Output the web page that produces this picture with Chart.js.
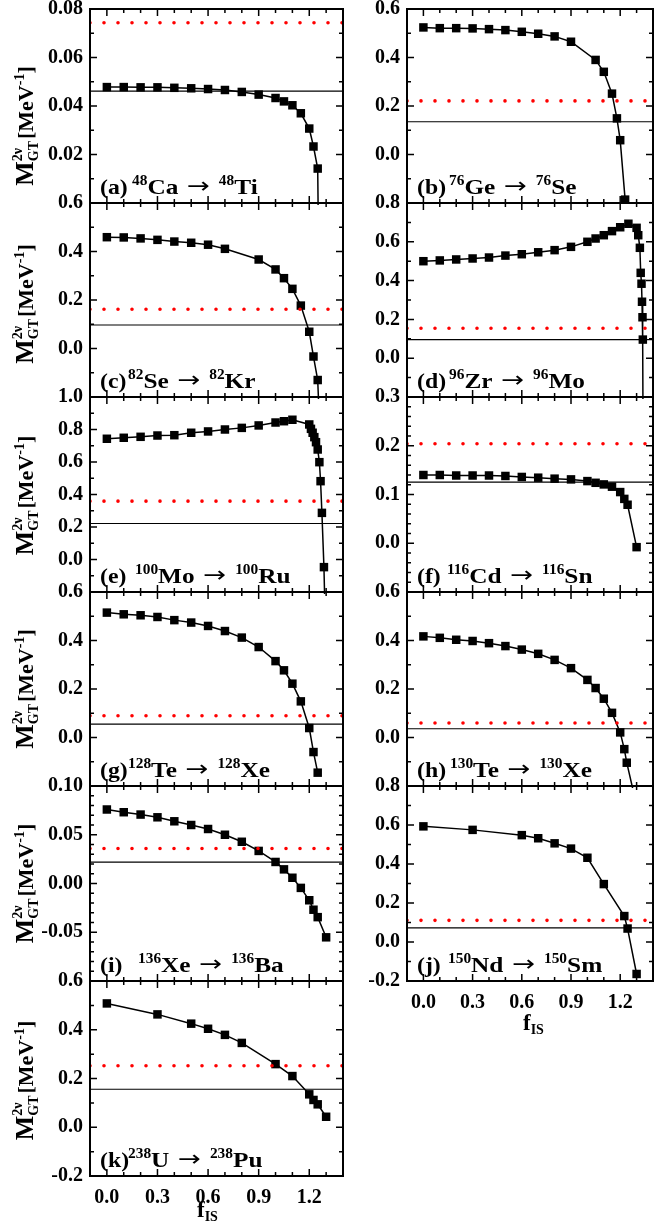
<!DOCTYPE html>
<html>
<head>
<meta charset="utf-8">
<script src="https://cdn.jsdelivr.net/npm/chart.js@4.4.1/dist/chart.umd.min.js"></script>
<style>
  html, body { margin: 0; padding: 0; background: #fff; }
  #wrap { position: relative; width: 659px; height: 1232px; overflow: hidden; }
  #wrap canvas { position: absolute; }
</style>
</head>
<body>
<div id="wrap"></div>
<script>
// x axis (f_IS) major ticks
var xTicks = [0.0, 0.3, 0.6, 0.9, 1.2];

// (a) 48Ca -> 48Ti
var fA = [0, 0.1, 0.2, 0.3, 0.4, 0.5, 0.6, 0.7, 0.8, 0.9, 1.0, 1.05, 1.1, 1.15, 1.2, 1.225, 1.25, 1.26];
var mA = [0.0478, 0.0478, 0.0477, 0.0477, 0.0475, 0.0473, 0.0470, 0.0466, 0.0458, 0.0447, 0.0433, 0.0419, 0.0403, 0.0370, 0.0307, 0.0233, 0.0142, -0.05];
// (b) 76Ge -> 76Se
var fB = [0, 0.1, 0.2, 0.3, 0.4, 0.5, 0.6, 0.7, 0.8, 0.9, 1.05, 1.1, 1.15, 1.18, 1.2, 1.23];
var mB = [0.524, 0.521, 0.521, 0.520, 0.517, 0.513, 0.506, 0.498, 0.487, 0.465, 0.390, 0.341, 0.251, 0.149, 0.059, -0.186];
// (c) 82Se -> 82Kr
var fC = [0, 0.1, 0.2, 0.3, 0.4, 0.5, 0.6, 0.7, 0.9, 1.0, 1.05, 1.1, 1.15, 1.2, 1.225, 1.25, 1.26];
var mC = [0.459, 0.458, 0.454, 0.448, 0.441, 0.436, 0.428, 0.411, 0.367, 0.326, 0.290, 0.246, 0.177, 0.069, -0.033, -0.130, -0.3];
// (d) 96Zr -> 96Mo
var fD = [0, 0.1, 0.2, 0.3, 0.4, 0.5, 0.6, 0.7, 0.8, 0.9, 1.0, 1.05, 1.1, 1.15, 1.2, 1.25, 1.3, 1.31, 1.32, 1.325, 1.33, 1.333, 1.336, 1.338, 1.34];
var mD = [0.500, 0.504, 0.509, 0.514, 0.519, 0.529, 0.536, 0.546, 0.557, 0.574, 0.600, 0.617, 0.634, 0.655, 0.675, 0.693, 0.672, 0.634, 0.569, 0.440, 0.384, 0.291, 0.211, 0.096, -0.5];
// (e) 100Mo -> 100Ru
var fE = [0, 0.1, 0.2, 0.3, 0.4, 0.5, 0.6, 0.7, 0.8, 0.9, 1.0, 1.05, 1.1, 1.2, 1.21, 1.22, 1.23, 1.24, 1.25, 1.26, 1.267, 1.275, 1.287, 1.295];
var mE = [0.743, 0.749, 0.755, 0.763, 0.765, 0.780, 0.788, 0.800, 0.810, 0.825, 0.843, 0.851, 0.860, 0.831, 0.804, 0.780, 0.753, 0.722, 0.677, 0.599, 0.482, 0.287, -0.047, -0.4];
// (f) 116Cd -> 116Sn
var fF = [0, 0.1, 0.2, 0.3, 0.4, 0.5, 0.6, 0.7, 0.8, 0.9, 1.0, 1.05, 1.1, 1.15, 1.2, 1.225, 1.245, 1.3];
var mF = [0.140, 0.140, 0.139, 0.139, 0.139, 0.138, 0.136, 0.1345, 0.1325, 0.131, 0.1275, 0.124, 0.1207, 0.116, 0.105, 0.091, 0.079, -0.008];
// (g) 128Te -> 128Xe
var fG = [0, 0.1, 0.2, 0.3, 0.4, 0.5, 0.6, 0.7, 0.8, 0.9, 1.0, 1.05, 1.1, 1.15, 1.2, 1.225, 1.25];
var mG = [0.515, 0.508, 0.504, 0.497, 0.484, 0.474, 0.460, 0.439, 0.412, 0.373, 0.315, 0.277, 0.222, 0.149, 0.039, -0.060, -0.145];
// (h) 130Te -> 130Xe
var fH = [0, 0.1, 0.2, 0.3, 0.4, 0.5, 0.6, 0.7, 0.8, 0.9, 1.0, 1.05, 1.1, 1.15, 1.2, 1.225, 1.24, 1.3];
var mH = [0.417, 0.411, 0.403, 0.398, 0.389, 0.377, 0.3625, 0.345, 0.320, 0.286, 0.2375, 0.204, 0.160, 0.1017, 0.021, -0.048, -0.104, -0.28];
// (i) 136Xe -> 136Ba
var fI = [0, 0.1, 0.2, 0.3, 0.4, 0.5, 0.6, 0.7, 0.8, 0.9, 1.0, 1.05, 1.1, 1.15, 1.2, 1.225, 1.25, 1.3];
var mI = [0.0759, 0.0731, 0.0707, 0.0679, 0.0638, 0.0600, 0.0559, 0.0500, 0.0428, 0.0334, 0.0221, 0.0145, 0.0059, -0.0045, -0.0172, -0.0269, -0.0345, -0.0552];
// (j) 150Nd -> 150Sm
var fJ = [0, 0.3, 0.6, 0.7, 0.8, 0.9, 1.0, 1.1, 1.225, 1.245, 1.3];
var mJ = [0.593, 0.575, 0.548, 0.532, 0.506, 0.479, 0.432, 0.297, 0.133, 0.069, -0.164];
// (k) 238U -> 238Pu
var fK = [0, 0.3, 0.5, 0.6, 0.7, 0.8, 1.0, 1.1, 1.2, 1.225, 1.25, 1.3];
var mK = [0.508, 0.463, 0.425, 0.404, 0.379, 0.346, 0.259, 0.210, 0.135, 0.112, 0.094, 0.043];

// horizontal reference levels per panel
var solidRef  = [0.0461, 0.135, 0.097, 0.096, 0.2215, 0.1255, 0.055, 0.036, 0.022, 0.0725, 0.156];
var dottedRef = [0.0743, 0.221, 0.162, 0.154, 0.359, 0.204, 0.090, 0.0596, 0.0359, 0.111, 0.2524];

// y axes per panel
var yMin   = [0, -0.2, -0.2, -0.2, -0.2, -0.1, -0.2, -0.2, -0.1, -0.2, -0.2];
var yMax   = [0.08, 0.6, 0.6, 0.8, 1.0, 0.3, 0.6, 0.6, 0.1, 0.8, 0.6];
var yStep  = [0.02, 0.2, 0.2, 0.2, 0.2, 0.1, 0.2, 0.2, 0.05, 0.2, 0.2];
var yMinor = [0.01, 0.1, 0.1, 0.1, 0.1, 0.02, 0.1, 0.1, 0.01, 0.1, 0.1];
var yDec   = [2, 1, 1, 1, 1, 1, 1, 1, 2, 1, 1];

var letters    = ['a', 'b', 'c', 'd', 'e', 'f', 'g', 'h', 'i', 'j', 'k'];
var massNum    = ['48', '76', '82', '96', '100', '116', '128', '130', '136', '150', '238'];
var parentEl   = ['Ca', 'Ge', 'Se', 'Zr', 'Mo', 'Cd', 'Te', 'Te', 'Xe', 'Nd', 'U'];
var daughterEl = ['Ti', 'Se', 'Kr', 'Mo', 'Ru', 'Sn', 'Xe', 'Xe', 'Ba', 'Sm', 'Pu'];

var fData = [fA, fB, fC, fD, fE, fF, fG, fH, fI, fJ, fK];
var mData = [mA, mB, mC, mD, mE, mF, mG, mH, mI, mJ, mK];

// layout
var SERIF = '"Liberation Serif", "Times New Roman", serif';
var rowTop = [9, 203, 397, 592, 786, 981, 1176];
var numX = [42, 42, 38, 42, 45, 40, 38, 43, 48, 41, 38];
var titleShift = [20, 0, 4, 0, 1, 0, 0, 0, 0, 0, 2];

function fontOf(size, fam, weight) { return (weight || 'bold') + ' ' + size + 'px ' + (fam || SERIF); }

// draws a row of text pieces, each with its own size, offset and horizontal stretch
function drawRuns(ctx, x, y, runs) {
  runs.forEach(function (r) {
    var sx = r.sx || 1;
    ctx.font = fontOf(r.size, r.fam, r.weight);
    ctx.save();
    ctx.translate(x, y + (r.dy || 0));
    ctx.scale(sx, 1);
    ctx.fillText(r.text, 0, 0);
    ctx.restore();
    x += ctx.measureText(r.text).width * sx;
  });
  return x;
}

function textW(ctx, t, size) {
  ctx.font = fontOf(size);
  return ctx.measureText(t).width;
}

var panelPlugin = {
  id: 'panel',
  afterDraw: function (chart, args, opts) {
    var i = opts.index, ctx = chart.ctx, a = chart.chartArea;
    var xs = chart.scales.x, ys = chart.scales.y;
    ctx.save();
    ctx.strokeStyle = '#000';
    ctx.fillStyle = '#000';

    // inward ticks on all four sides
    ctx.lineWidth = 1.5;
    ctx.beginPath();
    for (var k = -1; k <= 14; k++) {
      var px = xs.getPixelForValue(k / 10);
      var len = (k >= 0 && k <= 12 && k % 3 === 0) ? 7 : 4;
      ctx.moveTo(px, a.top); ctx.lineTo(px, a.top + len);
      ctx.moveTo(px, a.bottom); ctx.lineTo(px, a.bottom - len);
    }
    var n = Math.round((yMax[i] - yMin[i]) / yMinor[i]);
    for (k = 0; k <= n; k++) {
      var v = yMin[i] + k * yMinor[i];
      var r = v / yStep[i];
      var py = ys.getPixelForValue(v);
      len = Math.abs(r - Math.round(r)) < 1e-6 ? 7 : 4;
      ctx.moveTo(a.left, py); ctx.lineTo(a.left + len, py);
      ctx.moveTo(a.right, py); ctx.lineTo(a.right - len, py);
    }
    ctx.stroke();

    ctx.lineWidth = 2;
    ctx.strokeRect(a.left, a.top, a.right - a.left, a.bottom - a.top);

    // panel label, e.g. (a) 48Ca -> 48Ti
    ctx.textBaseline = 'alphabetic';
    ctx.textAlign = 'left';
    var by = a.bottom - 9;
    drawRuns(ctx, a.left + 10, by, [{ text: '(' + letters[i] + ')', size: 22, sx: 1.08 }]);
    drawRuns(ctx, a.left + numX[i], by, [
      { text: massNum[i], size: 14, dy: -9, sx: 1.1 },
      { text: parentEl[i], size: 22, sx: 1.15 },
      { text: ' \u2192 ', size: 22, fam: '"DejaVu Sans", sans-serif', weight: 'normal', sx: 1.25, dy: -1 },
      { text: massNum[i], size: 14, dy: -9, sx: 1.1 },
      { text: daughterEl[i], size: 22, sx: 1.15 }
    ]);

    // y title on the left column
    if (i % 2 === 0) {
      var wM = textW(ctx, 'M', 26);
      var wSS = Math.max(textW(ctx, '2\u03bd', 14), textW(ctx, 'GT', 14));
      var wB = textW(ctx, '[MeV', 22), wE = textW(ctx, '-1', 14), wC = textW(ctx, ']', 22);
      var total = wM + wSS + 2 + wB + wE + wC;
      ctx.save();
      ctx.translate(a.left - 57, (a.top + a.bottom) / 2 + titleShift[i]);
      ctx.rotate(-Math.PI / 2);
      var x0 = -total / 2;
      ctx.font = fontOf(26); ctx.fillText('M', x0, 0);
      x0 += wM;
      ctx.font = fontOf(14); ctx.fillText('2\u03bd', x0, -11); ctx.fillText('GT', x0, 5);
      x0 += wSS + 2;
      drawRuns(ctx, x0, 0, [
        { text: '[MeV', size: 22 },
        { text: '-1', size: 14, dy: -9 },
        { text: ']', size: 22 }
      ]);
      ctx.restore();
    }

    // x title on the bottom panels
    if (i >= 9) {
      var fx = a.left + (i === 10 ? 107 : 116);
      var fy = a.bottom + (i === 10 ? 41 : 49);
      drawRuns(ctx, fx, fy, [
        { text: 'f', size: 23 },
        { text: 'IS', size: 14, dy: 4 }
      ]);
    }
    ctx.restore();
  }
};

var wrap = document.getElementById('wrap');

for (var i = 0; i < 11; i++) {
  (function (i) {
    var col = i % 2, row = Math.floor(i / 2);
    var isBottom = i >= 9;
    var plotH = rowTop[row + 1] - rowTop[row];
    var axisH = isBottom ? (i === 10 ? 56 : 60) : 0;
    var cw = col === 0 ? 350 : 329;
    var ch = 20 + plotH + (isBottom ? axisH : 20);
    var canvas = document.createElement('canvas');
    canvas.width = cw; canvas.height = ch;
    canvas.style.left = (col === 0 ? 0 : 330) + 'px';
    canvas.style.top = (rowTop[row] - 20) + 'px';
    canvas.style.width = cw + 'px'; canvas.style.height = ch + 'px';
    wrap.appendChild(canvas);

    var series = fData[i].map(function (f, k) { return { x: f, y: mData[i][k] }; });
    var tickFont = { family: SERIF, size: 20, weight: 'bold' };

    new Chart(canvas, {
      type: 'line',
      data: {
        datasets: [{
          data: [{ x: -0.1, y: dottedRef[i] }, { x: 1.4, y: dottedRef[i] }],
          borderColor: '#ff0000',
          borderWidth: 3.6,
          borderDash: [0, 14],
          borderCapStyle: 'round',
          pointRadius: 0
        }, {
          data: series,
          borderColor: '#000',
          borderWidth: 1.5,
          pointStyle: 'rect',
          pointRadius: 6,
          pointBackgroundColor: '#000',
          pointBorderWidth: 0,
          clip: 2
        }, {
          data: [{ x: -0.1, y: solidRef[i] }, { x: 1.4, y: solidRef[i] }],
          borderColor: '#000',
          borderWidth: 1.2,
          pointRadius: 0
        }]
      },
      options: {
        responsive: false,
        animation: false,
        devicePixelRatio: 1,
        layout: { padding: { left: 0, right: col === 0 ? 7 : 1, top: 20, bottom: isBottom ? 0 : 20 } },
        plugins: {
          legend: { display: false },
          tooltip: { enabled: false },
          panel: { index: i }
        },
        scales: {
          x: {
            type: 'linear',
            min: -0.1,
            max: 1.4,
            display: isBottom,
            grid: { display: false, drawTicks: false },
            border: { display: false },
            afterBuildTicks: function (s) { s.ticks = xTicks.map(function (v) { return { value: v }; }); },
            afterFit: function (s) { s.height = axisH; },
            ticks: {
              font: tickFont, color: '#000', padding: 10, maxRotation: 0, autoSkip: false,
              callback: function (v) { return Number(v).toFixed(1); }
            }
          },
          y: {
            type: 'linear',
            min: yMin[i],
            max: yMax[i],
            grid: { display: false, drawTicks: false },
            border: { display: false },
            afterBuildTicks: function (s) {
              var t = [], n = Math.round((yMax[i] - yMin[i]) / yStep[i]);
              for (var k = 0; k <= n; k++) t.push({ value: Number((yMin[i] + k * yStep[i]).toFixed(6)) });
              s.ticks = t;
            },
            afterFit: function (s) { s.width = col === 0 ? 90 : 77; },
            ticks: {
              font: tickFont, color: '#000', padding: 7, autoSkip: false,
              callback: function (v) {
                if (!isBottom && Math.abs(v - yMin[i]) < 1e-9) return '';
                return Number(v).toFixed(yDec[i]);
              }
            }
          }
        }
      },
      plugins: [panelPlugin]
    });
  })(i);
}
</script>
</body>
</html>
